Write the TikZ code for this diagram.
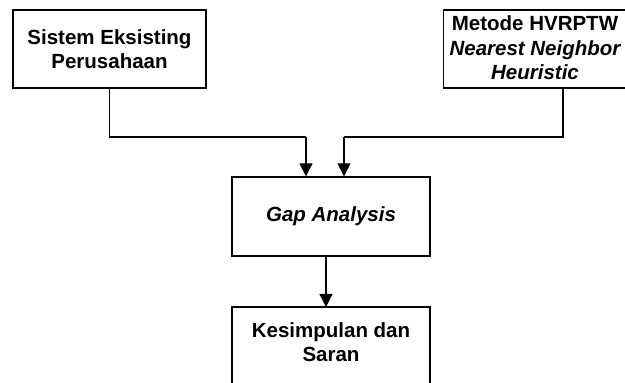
\documentclass[tikz,border=0pt]{standalone}
\usepackage{fontspec}
\setmainfont{Liberation Sans}
\usetikzlibrary{arrows.meta}
\begin{document}
\begin{tikzpicture}[x=1pt,y=1pt,
  boxstyle/.style={draw, line width=1.3pt, inner sep=0pt, align=center,
    font=\fontsize{20.5}{24.5}\selectfont\bfseries},
  txt/.style={inner sep=0pt, align=center, font=\fontsize{20.5}{24.5}\selectfont\bfseries},
  conn/.style={line width=1.3pt},
  arr/.style={line width=1.3pt, -{Triangle[length=13pt,width=13pt]}}]
\useasboundingbox (0,0) rectangle (625,383);
\clip (0,0) rectangle (625,383);
\node[boxstyle, minimum width=193, minimum height=78] (b1) at (109.5,334) {Sistem Eksisting\\Perusahaan};
\node[boxstyle, minimum width=190, minimum height=78, anchor=west] (b2) at (443,334) {};
\node[txt] (t2) at (535,335) {Metode HVRPTW\\\itshape Nearest Neighbor\\\itshape Heuristic};
\node[boxstyle, minimum width=198, minimum height=79] (gap) at (331,166.5) {\itshape Gap Analysis};
\coordinate (k1) at (232,76);
\coordinate (k2) at (430,76);
\draw[conn] (232,-5) -- (k1) -- (k2) -- (430,-5);
\node[txt] (kes) at (331,41) {Kesimpulan dan\\Saran};
\coordinate (c1) at (109.5,246);
\coordinate (c2) at (306,246);
\coordinate (c3) at (563,295);
\coordinate (c4) at (563,246);
\coordinate (c5) at (344,246);
\draw[conn] (b1.south) -- (c1) -- (c2);
\draw[arr] (c2) -- (c2 |- gap.north);
\draw[conn] (c3) -- (c4) -- (c5);
\draw[arr] (c5) -- (c5 |- gap.north);
\coordinate (g1) at (326,166.5);
\draw[arr] (g1 |- gap.south) -- (326,76);
\end{tikzpicture}
\end{document}
